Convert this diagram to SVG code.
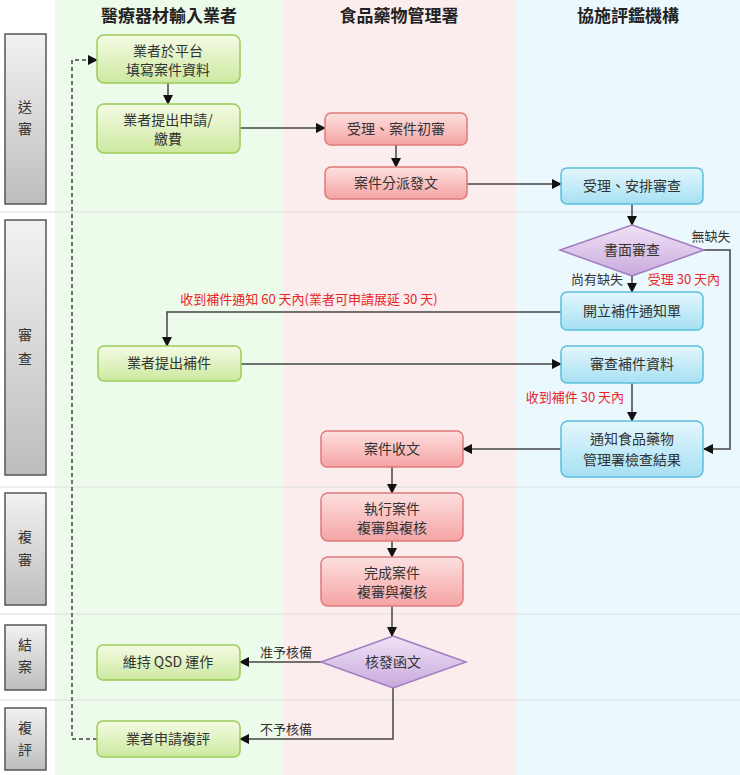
<svg xmlns="http://www.w3.org/2000/svg" width="740" height="775" viewBox="0 0 740 775">
<defs>
<linearGradient id="gG" x1="0" y1="0" x2="0" y2="1"><stop offset="0" stop-color="#f4fbe4"/><stop offset="1" stop-color="#cde9a0"/></linearGradient>
<linearGradient id="gR" x1="0" y1="0" x2="0" y2="1"><stop offset="0" stop-color="#fde0e0"/><stop offset="1" stop-color="#f5a3a3"/></linearGradient>
<linearGradient id="gB" x1="0" y1="0" x2="0" y2="1"><stop offset="0" stop-color="#e4f7fd"/><stop offset="1" stop-color="#a6e0f3"/></linearGradient>
<linearGradient id="gP" x1="0" y1="0" x2="0" y2="1"><stop offset="0" stop-color="#efe3f6"/><stop offset="1" stop-color="#c9a9dd"/></linearGradient>
<linearGradient id="gS" x1="0" y1="0" x2="0" y2="1"><stop offset="0" stop-color="#f2f2f2"/><stop offset="1" stop-color="#bdbdbd"/></linearGradient>
<marker id="a" viewBox="0 0 10 10" refX="9" refY="5" markerWidth="7" markerHeight="7" orient="auto"><path d="M0,0L10,5L0,10z" fill="#111"/></marker>
</defs>
<style>
text{font-family:"Noto Sans CJK TC","Noto Sans CJK SC",sans-serif;font-size:14px;fill:#333;text-anchor:middle}
.h{font-size:17px;font-weight:bold;fill:#222}
.g{fill:url(#gG);stroke:#9ccc5a;stroke-width:1.5}
.r{fill:url(#gR);stroke:#e07a7a;stroke-width:1.5}
.b{fill:url(#gB);stroke:#5bbfdc;stroke-width:1.5}
.p{fill:url(#gP);stroke:#a07cc0;stroke-width:1.5}
.s{fill:url(#gS);stroke:#555;stroke-width:1.5}
.c{fill:none;stroke:#444;stroke-width:1.5;marker-end:url(#a)}
.red{fill:#e8262a;font-size:13px}
.sm{font-size:13px}
</style>
<rect x="55" y="0" width="228" height="775" fill="#ecfbea"/>
<rect x="283" y="0" width="232" height="775" fill="#fbeded"/>
<rect x="515" y="0" width="225" height="775" fill="#ebf8fd"/>
<g stroke="#ddd" stroke-width="1"><line x1="0" y1="212" x2="740" y2="212"/><line x1="0" y1="487" x2="740" y2="487"/><line x1="0" y1="614" x2="740" y2="614"/><line x1="0" y1="700" x2="740" y2="700"/></g>
<text class="h" x="169" y="22">醫療器材輸入業者</text>
<text class="h" x="399" y="22">食品藥物管理署</text>
<text class="h" x="628" y="22">協施評鑑機構</text>
<g id="phases">
<rect class="s" x="5" y="34" width="41" height="170"/><text x="25" y="112">送</text><text x="25" y="134">審</text>
<rect class="s" x="5" y="220" width="41" height="255"/><text x="25" y="340">審</text><text x="25" y="364">查</text>
<rect class="s" x="5" y="493" width="41" height="112"/><text x="25" y="542">複</text><text x="25" y="565">審</text>
<rect class="s" x="5" y="625" width="41" height="65"/><text x="25" y="650">結</text><text x="25" y="672">案</text>
<rect class="s" x="5" y="708" width="41" height="62"/><text x="25" y="733">複</text><text x="25" y="755">評</text>
</g>
<g id="connectors">
<path class="c" d="M168,83V104"/>
<path class="c" d="M240,128H325"/>
<path class="c" d="M396,145V167"/>
<path class="c" d="M467,184H561"/>
<path class="c" d="M632,204V225"/>
<path class="c" d="M632,276V292"/>
<path class="c" d="M704,250H730V449H704"/>
<path class="c" d="M561,312H167V346"/>
<path class="c" d="M241,364H561"/>
<path class="c" d="M632,383V421"/>
<path class="c" d="M561,449H463"/>
<path class="c" d="M392,467V493"/>
<path class="c" d="M392,541V557"/>
<path class="c" d="M392,606V636"/>
<path class="c" d="M321,662H240"/>
<path class="c" d="M393,688V739H240"/>
<path class="c" d="M97,739H72V60H97" stroke-dasharray="4,3"/>
<text class="sm" x="597" y="284">尚有缺失</text>
<text class="red" x="684" y="284">受理 30 天內</text>
<text class="sm" x="711" y="241">無缺失</text>
<text class="red" x="309" y="304">收到補件通知 60 天內(業者可申請展延 30 天)</text>
<text class="red" x="575" y="402">收到補件 30 天內</text>
<text class="sm" x="286" y="657">准予核備</text>
<text class="sm" x="286" y="734">不予核備</text>
</g>
<g id="n1"><rect class="g" x="97" y="35" width="143" height="48" rx="7"/><text x="168" y="56">業者於平台</text><text x="168" y="75">填寫案件資料</text></g>
<g id="n2"><rect class="g" x="97" y="104" width="143" height="49" rx="7"/><text x="168" y="125">業者提出申請/</text><text x="168" y="144">繳費</text></g>
<g id="n3"><rect class="r" x="325" y="113" width="142" height="32" rx="6"/><text x="396" y="134">受理、案件初審</text></g>
<g id="n4"><rect class="r" x="325" y="167" width="142" height="32" rx="6"/><text x="396" y="188">案件分派發文</text></g>
<g id="n5"><rect class="b" x="561" y="168" width="142" height="36" rx="6"/><text x="632" y="191">受理、安排審查</text></g>
<g id="d1"><path class="p" d="M632,225L704,250L632,276L560,250Z"/><text x="632" y="255">書面審查</text></g>
<g id="n6"><rect class="b" x="561" y="292" width="142" height="38" rx="6"/><text x="632" y="316">開立補件通知單</text></g>
<g id="n7"><rect class="g" x="98" y="346" width="143" height="35" rx="6"/><text x="169" y="368">業者提出補件</text></g>
<g id="n8"><rect class="b" x="561" y="346" width="142" height="37" rx="6"/><text x="632" y="369">審查補件資料</text></g>
<g id="n9"><rect class="b" x="561" y="421" width="142" height="56" rx="7"/><text x="632" y="444">通知食品藥物</text><text x="632" y="465">管理署檢查結果</text></g>
<g id="n10"><rect class="r" x="321" y="431" width="142" height="36" rx="6"/><text x="392" y="454">案件收文</text></g>
<g id="n11"><rect class="r" x="321" y="493" width="142" height="48" rx="7"/><text x="392" y="514">執行案件</text><text x="392" y="533">複審與複核</text></g>
<g id="n12"><rect class="r" x="321" y="557" width="142" height="49" rx="7"/><text x="392" y="578">完成案件</text><text x="392" y="597">複審與複核</text></g>
<g id="d2"><path class="p" d="M393,636L466,662L393,688L321,662Z"/><text x="393" y="667">核發函文</text></g>
<g id="n13"><rect class="g" x="97" y="645" width="143" height="35" rx="6"/><text x="168" y="667">維持 QSD 運作</text></g>
<g id="n14"><rect class="g" x="97" y="721" width="143" height="36" rx="6"/><text x="168" y="744">業者申請複評</text></g>
</svg>
